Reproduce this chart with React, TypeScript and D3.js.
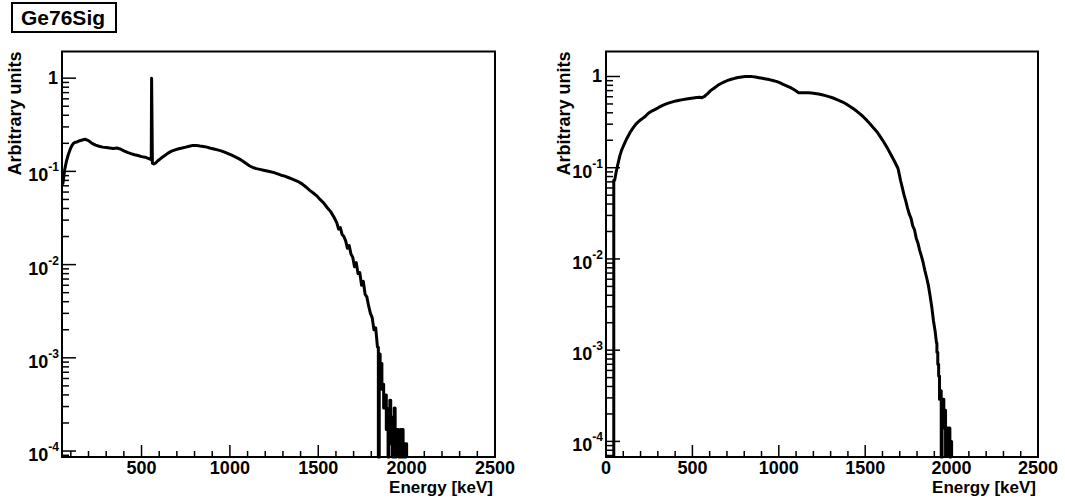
import React from "react";
import * as d3 from "d3";

// bins: [low edge keV, value]
// "body" bins are fine enough to be drawn through their centres, "tail" bins as steps
const leftBody: [number, number][] = [
  [50, 0.074], [60, 0.104], [70, 0.128], [80, 0.15], [90, 0.17],
  [100, 0.188], [110, 0.2], [120, 0.205], [130, 0.207], [140, 0.212],
  [150, 0.216], [170, 0.221], [190, 0.214], [210, 0.2], [230, 0.191],
  [250, 0.186], [270, 0.182], [290, 0.18], [310, 0.178], [330, 0.176],
  [350, 0.178], [370, 0.174], [390, 0.166], [410, 0.16], [430, 0.155],
  [450, 0.151], [470, 0.148], [490, 0.144], [510, 0.142], [530, 0.138],
  [545, 0.135], [554, 0.133], [556, 1.0], [558, 0.122], [565, 0.12],
  [575, 0.123], [585, 0.13], [600, 0.138], [620, 0.147], [640, 0.157],
  [660, 0.165], [680, 0.17], [700, 0.175], [720, 0.178], [740, 0.182],
  [760, 0.186], [780, 0.19], [800, 0.19], [820, 0.187], [840, 0.185],
  [860, 0.182], [880, 0.177], [900, 0.174], [920, 0.17], [940, 0.166],
  [960, 0.161], [980, 0.155], [1000, 0.149], [1020, 0.143], [1040, 0.137],
  [1060, 0.13], [1080, 0.122], [1100, 0.115], [1120, 0.11], [1140, 0.107],
  [1160, 0.105], [1180, 0.103], [1200, 0.101], [1220, 0.099], [1240, 0.097],
  [1260, 0.094], [1280, 0.091], [1300, 0.089], [1320, 0.086], [1340, 0.083],
  [1360, 0.08], [1380, 0.077], [1400, 0.073], [1420, 0.068], [1440, 0.063],
  [1460, 0.059], [1480, 0.055], [1500, 0.05], [1520, 0.046], [1540, 0.041],
  [1560, 0.037], [1580, 0.032], [1600, 0.028], [1610, 0.024], [1620, 0.025],
  [1630, 0.021], [1640, 0.02], [1650, 0.018], [1660, 0.015], [1670, 0.016],
  [1680, 0.013], [1690, 0.012], [1700, 0.0095], [1710, 0.0105], [1720, 0.008],
  [1730, 0.0082], [1740, 0.006], [1750, 0.0066], [1760, 0.0048], [1770, 0.0045],
  [1780, 0.0036], [1790, 0.003], [1800, 0.0027], [1810, 0.002], [1820, 0.0021],
  [1830, 0.0013],
];
const leftTail: [number, number][] = [
  [1840, 0], [1845, 0.0011], [1850, 0.00075], [1855, 0.00087], [1860, 0.00046],
  [1865, 0.00052], [1870, 0.00029], [1875, 0.00035], [1880, 0.0004], [1885, 0.00017],
  [1890, 0.00023], [1895, 0.00006], [1900, 0.00029], [1905, 0.00035], [1910, 0.00012],
  [1915, 0.00023], [1920, 0], [1925, 0.00017], [1930, 0.00029], [1935, 0.00006],
  [1940, 0.00017], [1945, 0.00012], [1950, 0.00017], [1955, 0], [1960, 0.00012],
  [1965, 0.00017], [1970, 0.00006], [1975, 0.00017], [1980, 0], [1985, 0.00012],
  [1990, 0], [1995, 0.00012],
];

const rightBody: [number, number][] = [
  [45, 0.073], [55, 0.092], [65, 0.112], [75, 0.135], [85, 0.155],
  [95, 0.172], [105, 0.19], [115, 0.208], [125, 0.225], [135, 0.245],
  [145, 0.262], [155, 0.278], [165, 0.295], [175, 0.31], [185, 0.322],
  [195, 0.335], [205, 0.345], [215, 0.362], [235, 0.395], [255, 0.418],
  [275, 0.436], [295, 0.458], [315, 0.479], [335, 0.497], [355, 0.513],
  [375, 0.527], [395, 0.54], [415, 0.55], [435, 0.558], [455, 0.566],
  [475, 0.574], [495, 0.582], [515, 0.588], [535, 0.593], [550, 0.586],
  [560, 0.6], [575, 0.64], [595, 0.7], [615, 0.745], [635, 0.795],
  [655, 0.838], [675, 0.875], [695, 0.905], [715, 0.932], [735, 0.955],
  [755, 0.975], [775, 0.988], [795, 0.997], [815, 1.0], [835, 0.997],
  [855, 0.985], [875, 0.97], [895, 0.955], [915, 0.94], [935, 0.925],
  [955, 0.905], [975, 0.885], [995, 0.855], [1015, 0.82], [1035, 0.79],
  [1055, 0.76], [1075, 0.725], [1095, 0.69], [1110, 0.662], [1120, 0.665],
  [1140, 0.664], [1160, 0.662], [1180, 0.658], [1200, 0.652], [1220, 0.642],
  [1240, 0.63], [1260, 0.617], [1280, 0.602], [1300, 0.585], [1320, 0.565],
  [1340, 0.545], [1360, 0.525], [1380, 0.5], [1400, 0.472], [1420, 0.445],
  [1440, 0.418], [1460, 0.39], [1480, 0.36], [1500, 0.33], [1520, 0.3],
  [1540, 0.27], [1560, 0.245], [1580, 0.215], [1600, 0.188], [1620, 0.162],
  [1640, 0.138], [1660, 0.117], [1680, 0.098], [1700, 0.072], [1710, 0.06],
  [1720, 0.05], [1730, 0.043], [1740, 0.036], [1750, 0.031], [1760, 0.028],
  [1770, 0.023], [1780, 0.021], [1790, 0.017], [1800, 0.015], [1810, 0.0125],
  [1820, 0.0108], [1830, 0.0092], [1840, 0.0075], [1850, 0.0063], [1860, 0.0052],
  [1870, 0.004], [1880, 0.003], [1890, 0.0021], [1900, 0.0016], [1910, 0.0012],
];
const rightTail: [number, number][] = [
  [1915, 0.00095], [1920, 0.0007], [1925, 0.00052], [1930, 0.00029], [1935, 0.00036],
  [1940, 0], [1945, 0.00014], [1950, 0.00029], [1955, 0.00014], [1960, 0.00022],
  [1965, 0.00007], [1970, 0.00014], [1975, 0.00014], [1980, 0.00007], [1985, 0.00014],
  [1990, 0], [1995, 0.0001],
];

const xTicks = [0, 500, 1000, 1500, 2000, 2500];
const decades = [-4, -3, -2, -1, 0];

const FONT = "'Liberation Sans', Arial, Helvetica, sans-serif";

type PanelProps = {
  left: number;
  right: number;
  top: number;
  bottom: number;
  xMin: number;
  yMin: number;
  yMax: number;
  body: [number, number][];
  tail: [number, number][];
  endEdge: number;
  titleX: number;
};

function Panel(p: PanelProps) {
  const x = d3.scaleLinear().domain([p.xMin, 2500]).range([p.left, p.right]);
  const y = d3.scaleLog().domain([p.yMin, p.yMax]).range([p.bottom, p.top]);

  const yv = (v: number) => (v > 0 ? Math.min(p.bottom, y(v)) : p.bottom);
  const tailStart = p.tail[0][0];
  const first = p.body[0][0];
  const pts: [number, number][] = [];
  // first bin edge rises from the bottom, unless it sits on the frame
  if (first > p.xMin) pts.push([x(first), p.bottom]);
  pts.push([x(first), yv(p.body[0][1])]);
  p.body.forEach(([e, v], i) => {
    const e2 = i + 1 < p.body.length ? p.body[i + 1][0] : tailStart;
    pts.push([x((e + e2) / 2), yv(v)]);
  });
  pts.push([x(tailStart), yv(p.body[p.body.length - 1][1])]);
  p.tail.forEach(([e, v], i) => {
    const e2 = i + 1 < p.tail.length ? p.tail[i + 1][0] : p.endEdge;
    pts.push([x(e), yv(v)], [x(e2), yv(v)]);
  });
  pts.push([x(p.endEdge), p.bottom]);
  const path = d3.line()(pts) ?? "";

  const minorX = d3.range(0, 2501, 100).filter((v) => v >= p.xMin && v % 500 !== 0);
  const logTicks: { v: number; major: boolean }[] = [];
  for (let d = -5; d <= 0; d++) {
    for (let k = 1; k <= 9; k++) {
      const v = k * Math.pow(10, d);
      if (v >= p.yMin && v <= p.yMax) logTicks.push({ v, major: k === 1 });
    }
  }

  return (
    <g>
      <path d={path} fill="none" stroke="#000" strokeWidth={3} strokeLinejoin="round" />
      {logTicks.map((t, i) => (
        <line key={"yt" + i} x1={p.left} x2={p.left + (t.major ? 14 : 7)} y1={y(t.v)} y2={y(t.v)} stroke="#000" strokeWidth={1.5} />
      ))}
      {minorX.map((v) => (
        <line key={"xm" + v} x1={x(v)} x2={x(v)} y1={p.bottom} y2={p.bottom - 6} stroke="#000" strokeWidth={1.5} />
      ))}
      {xTicks.filter((v) => v >= p.xMin).map((v) => (
        <g key={"xt" + v}>
          <line x1={x(v)} x2={x(v)} y1={p.bottom} y2={p.bottom - 12} stroke="#000" strokeWidth={1.5} />
          <text x={x(v)} y={p.bottom + 17} textAnchor="middle" fontSize={18} fontWeight="bold" fontFamily={FONT}>
            {v}
          </text>
        </g>
      ))}
      {decades.map((d) => (
        d === 0 ? (
          <text key={"yl" + d} x={p.left - 4} y={y(1) + 6} textAnchor="end" fontSize={18} fontWeight="bold" fontFamily={FONT}>1</text>
        ) : (
          <text key={"yl" + d} x={p.left - 3} y={y(Math.pow(10, d)) + 10} textAnchor="end" fontSize={18} fontWeight="bold" fontFamily={FONT}>
            10<tspan fontSize={12} dy={-10}>{String(d)}</tspan>
          </text>
        )
      ))}
      <rect x={p.left} y={p.top} width={p.right - p.left} height={p.bottom - p.top} fill="none" stroke="#000" strokeWidth={2} />
      <text x={p.right - 2} y={493} textAnchor="end" fontSize={17} fontWeight="bold" fontFamily={FONT}>
        Energy [keV]
      </text>
      <text transform={`translate(${p.titleX},${p.top}) rotate(-90)`} textAnchor="end" fontSize={18} fontWeight="bold" fontFamily={FONT}>
        Arbitrary units
      </text>
    </g>
  );
}

export default function App() {
  return (
    <svg width={1065} height={504} style={{ position: "absolute", left: 0, top: 0, background: "#fff" }}>
      <rect x={0} y={0} width={1065} height={504} fill="#fff" />
      <rect x={12} y={3} width={104} height={29} fill="#fff" stroke="#000" strokeWidth={2} />
      <text x={21} y={25} fontSize={21} fontWeight="bold" fontFamily={FONT}>Ge76Sig</text>
      <Panel
        left={62} right={495} top={51.5} bottom={457}
        xMin={50} yMin={Math.pow(10, -4.064)} yMax={Math.pow(10, 0.286)}
        body={leftBody} tail={leftTail} endEdge={2000} titleX={21}
      />
      <Panel
        left={606} right={1038} top={51.5} bottom={457}
        xMin={0} yMin={Math.pow(10, -4.171)} yMax={Math.pow(10, 0.274)}
        body={rightBody} tail={rightTail} endEdge={2000} titleX={570}
      />
    </svg>
  );
}
